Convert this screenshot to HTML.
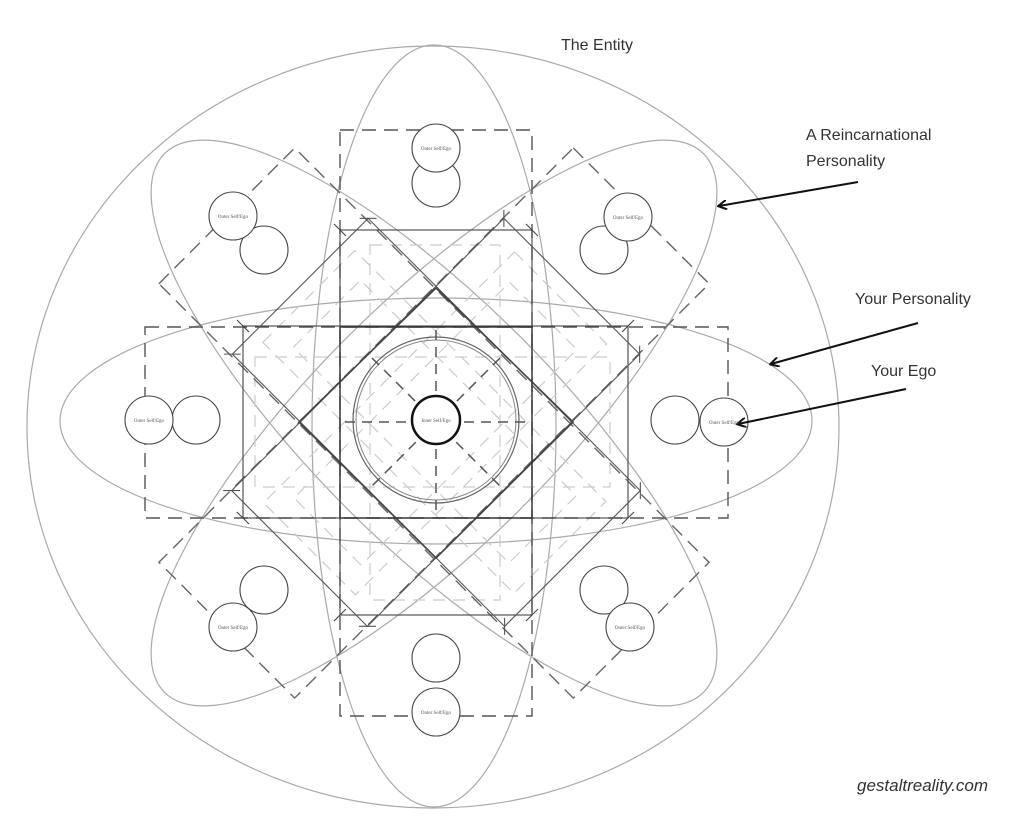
<!DOCTYPE html>
<html><head><style>
html,body{margin:0;padding:0;background:#fff;}
svg{display:block;}
.lbl{font-family:"Liberation Sans",sans-serif;font-size:16px;fill:#333;}
.sm{font-family:"Liberation Serif",serif;font-size:5px;fill:#555;}
</style></head><body>
<svg width="1024" height="828" viewBox="0 0 1024 828" xmlns="http://www.w3.org/2000/svg">
<defs>
<marker id="ah" markerWidth="10" markerHeight="10" refX="8" refY="5" orient="auto" markerUnits="userSpaceOnUse">
<path d="M0,0 L9,5 L0,10" fill="none" stroke="#111" stroke-width="2"/>
</marker>
<g id="solidv">
<rect x="340" y="230" width="192" height="385"/>
<line x1="334" y1="224" x2="346" y2="236"/><line x1="526" y1="224" x2="538" y2="236"/>
<line x1="334" y1="621" x2="346" y2="609"/><line x1="526" y1="621" x2="538" y2="609"/>
</g>
</defs>
<g fill="none">
<ellipse cx="433" cy="427" rx="406" ry="381" stroke="#aaa" stroke-width="1.2"/>
<ellipse cx="434" cy="426" rx="122" ry="381" stroke="#aaa" stroke-width="1.2"/>
<ellipse cx="436" cy="421" rx="376" ry="123" stroke="#aaa" stroke-width="1.2"/>
<ellipse cx="434" cy="423" rx="122" ry="381" stroke="#aaa" stroke-width="1.2" transform="rotate(45 434 423)"/>
<ellipse cx="434" cy="423" rx="122" ry="381" stroke="#aaa" stroke-width="1.2" transform="rotate(-45 434 423)"/>

<g stroke="#ccc" stroke-width="1.2" stroke-dasharray="12,8">
<rect x="370" y="245" width="130" height="355"/>
<rect x="255" y="357" width="355" height="130"/>
<rect x="370" y="245" width="130" height="355" transform="rotate(45 434 423)"/>
<rect x="370" y="245" width="130" height="355" transform="rotate(-45 434 423)"/>
<rect x="388" y="270" width="95" height="305" transform="rotate(45 434 423)"/>
<rect x="388" y="270" width="95" height="305" transform="rotate(-45 434 423)"/>
</g>

<g stroke="#555" stroke-width="1.4" stroke-dasharray="14,8">
<rect x="340" y="130" width="192" height="586"/>
<rect x="145" y="327" width="583" height="191"/>
<rect x="338" y="130" width="192" height="586" transform="rotate(45 434 423)" stroke="#666"/>
<rect x="338" y="130" width="192" height="586" transform="rotate(-45 434 423)" stroke="#666"/>
</g>

<g stroke="#444" stroke-width="1.1">
<use href="#solidv"/>
<use href="#solidv" transform="rotate(90 436 422)"/>
<use href="#solidv" transform="rotate(45 436 422)" stroke="#555"/>
<use href="#solidv" transform="rotate(-45 436 422)" stroke="#555"/>
<polygon points="436,288 573,422 436,558 299,422" stroke="#444" stroke-width="1.6"/>
<rect x="340" y="327" width="192" height="191" stroke="#333" stroke-width="1.4"/>
</g>

<circle cx="436" cy="420" r="83" stroke="#666" stroke-width="1.2"/>
<circle cx="436" cy="420" r="80" stroke="#888" stroke-width="1"/>
<g stroke="#555" stroke-width="1.5" stroke-dasharray="10,7">
<line x1="436" y1="330" x2="436" y2="515"/>
<line x1="345" y1="422" x2="528" y2="422"/>
<line x1="372" y1="358" x2="500" y2="486"/>
<line x1="500" y1="358" x2="372" y2="486"/>
</g>
<circle cx="436" cy="420" r="24" stroke="#111" stroke-width="2.5" fill="#fff"/>

<g stroke="#444" stroke-width="1.1" fill="#fff">
<circle cx="436" cy="183" r="24"/><circle cx="436" cy="148" r="24"/>
<circle cx="436" cy="658" r="24"/><circle cx="436" cy="712" r="24"/>
<circle cx="196" cy="420" r="24"/><circle cx="149" cy="420" r="24"/>
<circle cx="675" cy="420" r="24"/><circle cx="724" cy="422" r="24"/>
<circle cx="264" cy="250" r="24"/><circle cx="233" cy="216" r="24"/>
<circle cx="604" cy="250" r="24"/><circle cx="628" cy="217" r="24"/>
<circle cx="264" cy="590" r="24"/><circle cx="233" cy="627" r="24"/>
<circle cx="604" cy="590" r="24"/><circle cx="630" cy="627" r="24"/>
</g>

<g stroke="#111" stroke-width="2" marker-end="url(#ah)">
<line x1="858" y1="182" x2="719" y2="206"/>
<line x1="918" y1="323" x2="771" y2="364"/>
<line x1="906" y1="389" x2="738" y2="424"/>
</g>
</g>

<g text-anchor="middle" class="sm">
<text x="436" y="422">Inner Self/Ego</text>
<text x="436" y="150">Outer Self/Ego</text>
<text x="436" y="714">Outer Self/Ego</text>
<text x="149" y="422">Outer Self/Ego</text>
<text x="724" y="424">Outer Self/Ego</text>
<text x="233" y="218">Outer Self/Ego</text>
<text x="628" y="219">Outer Self/Ego</text>
<text x="233" y="629">Outer Self/Ego</text>
<text x="630" y="629">Outer Self/Ego</text>
</g>

<text x="561" y="50" class="lbl">The Entity</text>
<text x="806" y="140" class="lbl">A Reincarnational</text>
<text x="806" y="166" class="lbl">Personality</text>
<text x="855" y="304" class="lbl">Your Personality</text>
<text x="871" y="376" class="lbl">Your Ego</text>
<text x="857" y="791" class="lbl" style="font-style:italic;font-size:17px;">gestaltreality.com</text>
</svg>
</body></html>
